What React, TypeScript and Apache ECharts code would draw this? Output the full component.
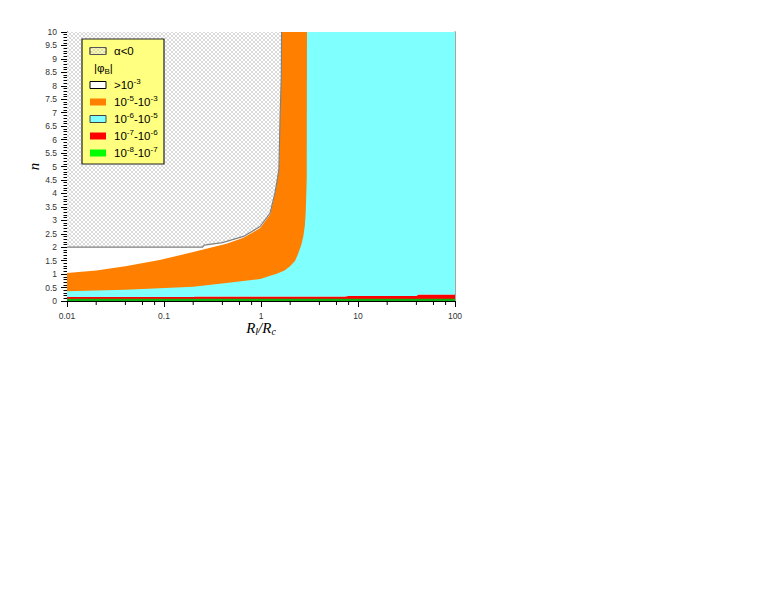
import React, { useEffect, useRef } from "react";
import * as echarts from "echarts";

// ---- data ----
// boundary of the alpha<0 (hatched) region
const alphaX = [0.01, 0.25, 0.26, 0.4, 0.66, 0.98, 1.24, 1.39, 1.47, 1.53, 1.57, 1.62, 1.63];
const alphaN = [2.0, 2.0, 2.08, 2.17, 2.4, 2.77, 3.27, 4.0, 4.5, 4.9, 6.7, 8.4, 10];
// upper boundary of the 1e-5..1e-3 (orange) band
const upperX = [0.01, 0.02, 0.04, 0.09, 0.2, 0.44, 0.66, 0.98, 1.24, 1.39, 1.47, 1.53, 1.57, 1.62, 1.63];
const upperN = [1.04, 1.13, 1.29, 1.52, 1.82, 2.13, 2.35, 2.71, 3.22, 3.97, 4.48, 4.88, 6.7, 8.4, 10];
// lower boundary of the orange band
const lowerX = [0.01, 0.04, 0.09, 0.2, 0.44, 0.98, 1.45, 1.75, 1.99, 2.25, 2.43, 2.6, 2.73, 2.83, 2.89, 2.96, 2.98];
const lowerN = [0.36, 0.42, 0.47, 0.53, 0.67, 0.82, 1.01, 1.13, 1.29, 1.5, 1.78, 2.08, 2.4, 2.8, 3.27, 4.5, 10];
// top of the 1e-7..1e-6 (red) band
const redTopX = [0.01, 0.2, 0.21, 7.3, 8, 40, 42, 100];
const redTopN = [0.145, 0.145, 0.16, 0.16, 0.185, 0.185, 0.235, 0.235];
// top of the 1e-8..1e-7 (green) band
const greenTopX = [0.01, 100];
const greenTopN = [0.08, 0.08];

const xTickLabels = ["0.01", "0.1", "1", "10", "100"];
const xMinorTicks = [
  0.02, 0.04, 0.06, 0.08,
  0.2, 0.4, 0.6, 0.8,
  2, 4, 6, 8,
  20, 40, 60, 80,
];

const legendLabels = [
  "α<0",
  "|φ{sub|B}|",
  ">10{sup|-3}",
  "10{sup|-5}-10{sup|-3}",
  "10{sup|-6}-10{sup|-5}",
  "10{sup|-7}-10{sup|-6}",
  "10{sup|-8}-10{sup|-7}",
];

const C_ORANGE = "#ff8000";
const C_CYAN = "#80ffff";
const C_RED = "#ff0000";
const C_GREEN = "#00ff00";
const C_GREEN_PLOT = "#10b010";
const C_YELLOW = "#ffff80";

const SANS = "Liberation Sans";
const SERIF = "Liberation Serif";

function zip(xs: number[], ys: number[]) {
  return xs.map((x, i) => [x, ys[i]]);
}

function makeHatch() {
  const c = document.createElement("canvas");
  c.width = 4;
  c.height = 4;
  const ctx = c.getContext("2d")!;
  ctx.fillStyle = "#dadada";
  for (let i = 0; i < 4; i++) {
    ctx.fillRect(i, i, 1, 1);
    ctx.fillRect(3 - i, i, 1, 1);
  }
  return c;
}

function areaSeries(data: number[][], color: any, origin: string, z: number, line?: any) {
  return {
    type: "line",
    data,
    showSymbol: false,
    symbol: "none",
    smooth: false,
    silent: true,
    z,
    lineStyle: line || { width: 0, opacity: 0 },
    areaStyle: { color, opacity: 1, origin },
  };
}

export default function App() {
  const ref = useRef<HTMLDivElement>(null);
  useEffect(() => {
    if (!ref.current) return;
    const chart = echarts.init(ref.current, undefined, { renderer: "svg" });
    const hatch = makeHatch();
    const hatchPattern = { image: hatch, repeat: "repeat" };

    const rowY = [51, 68, 85, 102, 119, 136, 153];
    const swatches: any[] = [
      { fill: C_YELLOW, stroke: "#555", hatch: true },
      null,
      { fill: "#ffffff", stroke: "#000" },
      { fill: C_ORANGE, stroke: null },
      { fill: C_CYAN, stroke: "#444" },
      { fill: C_RED, stroke: null },
      { fill: C_GREEN, stroke: null },
    ];
    const legendEls: any[] = [
      {
        type: "rect",
        shape: { x: 82, y: 39, width: 82, height: 125 },
        style: { fill: C_YELLOW, stroke: "#222", lineWidth: 1.2 },
        z: 100,
      },
    ];
    swatches.forEach((s, i) => {
      if (!s) return;
      legendEls.push({
        type: "rect",
        shape: { x: 90, y: rowY[i] - 3.5, width: 16, height: 7 },
        style: { fill: s.fill, stroke: s.stroke || undefined, lineWidth: s.stroke ? 1 : 0 },
        z: 101,
      });
      if (s.hatch) {
        legendEls.push({
          type: "rect",
          shape: { x: 90, y: rowY[i] - 3.5, width: 16, height: 7 },
          style: { fill: hatchPattern, stroke: s.stroke, lineWidth: 1 },
          z: 102,
        });
      }
    });
    legendLabels.forEach((t, i) => {
      legendEls.push({
        type: "text",
        x: i === 1 ? 94 : 114,
        y: rowY[i],
        z: 103,
        style: {
          text: t,
          fontFamily: SANS,
          fontSize: 11.5,
          fill: "#000",
          verticalAlign: "middle",
          lineHeight: 15,
          rich: {
            sup: { fontSize: 8, fontFamily: SANS, verticalAlign: "top", lineHeight: 9, fill: "#000" },
            sub: { fontSize: 8, fontFamily: SANS, verticalAlign: "bottom", lineHeight: 9, fill: "#000" },
          },
        },
      });
    });

    chart.setOption({
      animation: false,
      grid: { left: 67, right: 321, top: 32, bottom: 298, containLabel: false },
      xAxis: [
        {
          type: "log",
          logBase: 10,
          min: 0.01,
          max: 100,
          position: "bottom",
          axisLine: { show: true, lineStyle: { color: "#000", width: 1 } },
          axisTick: { show: true, length: 6, lineStyle: { color: "#000" } },
          minorTick: { show: false },
          splitLine: { show: false },
          axisLabel: {
            fontFamily: SANS,
            fontSize: 8.5,
            color: "#333",
            margin: 10,
            formatter: (v: number) => xTickLabels[Math.round(Math.log10(v)) + 2],
          },
          name: "{i|R}{s|l}{i|/R}{s|c}",
          nameLocation: "middle",
          nameGap: 18,
          nameTextStyle: {
            rich: {
              i: { fontFamily: SERIF, fontStyle: "italic", fontSize: 15, color: "#000", lineHeight: 17 },
              s: { fontFamily: SERIF, fontStyle: "italic", fontSize: 10, color: "#000", verticalAlign: "bottom", lineHeight: 11 },
            },
          },
        },
        {
          type: "value",
          min: 0,
          max: 1,
          position: "top",
          axisLine: { show: true, lineStyle: { color: "#000", width: 1 } },
          axisTick: { show: false },
          axisLabel: { show: false },
          splitLine: { show: false },
        },
      ],
      yAxis: [
        {
          type: "value",
          min: 0,
          max: 10,
          interval: 0.5,
          position: "left",
          axisLine: { show: true, lineStyle: { color: "#000", width: 1 } },
          axisTick: { show: true, length: 6, lineStyle: { color: "#000" } },
          minorTick: { show: true, splitNumber: 5, length: 3.5, lineStyle: { color: "#000" } },
          splitLine: { show: false },
          axisLabel: { fontFamily: SANS, fontSize: 8.5, color: "#333", margin: 10 },
          name: "n",
          nameLocation: "middle",
          nameGap: 26,
          nameTextStyle: { fontFamily: SERIF, fontStyle: "italic", fontSize: 15, color: "#000" },
        },
        {
          type: "value",
          min: 0,
          max: 1,
          position: "right",
          axisLine: { show: true, lineStyle: { color: "#888", width: 1.5 } },
          axisTick: { show: false },
          axisLabel: { show: false },
          splitLine: { show: false },
        },
      ],
      series: [
        areaSeries(zip(redTopX, redTopN), C_CYAN, "end", 2),
        areaSeries(zip(lowerX, lowerN), C_ORANGE, "end", 3),
        areaSeries(zip(upperX, upperN), "#ffffff", "end", 4),
        areaSeries(zip(alphaX, alphaN), hatchPattern, "end", 5, { color: "#808080", width: 1.2 }),
        areaSeries(zip(redTopX, redTopN), C_RED, "start", 6),
        areaSeries(zip(greenTopX, greenTopN), C_GREEN_PLOT, "start", 7),
        {
          type: "custom",
          silent: true,
          z: 10,
          clip: false,
          data: xMinorTicks.map((v) => [v, 0]),
          renderItem: (_p: any, api: any) => {
            const p = api.coord([api.value(0), 0]);
            return {
              type: "line",
              shape: { x1: p[0], y1: p[1], x2: p[0], y2: p[1] + 4 },
              style: { stroke: "#000", lineWidth: 1 },
            };
          },
        },
      ],
      graphic: legendEls,
    });
    return () => chart.dispose();
  }, []);
  return (
    <div
      ref={ref}
      style={{ position: "absolute", left: 0, top: 0, width: 776, height: 599, background: "#fff" }}
    />
  );
}
